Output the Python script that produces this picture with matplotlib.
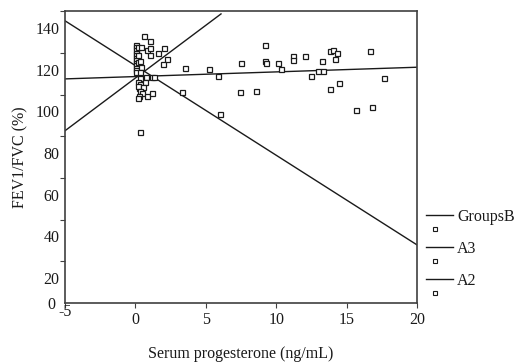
import numpy as np
import matplotlib.pyplot as plt
from matplotlib.transforms import ScaledTranslation

plt.rcParams['font.family'] = ['Liberation Serif', 'DejaVu Serif']

# scatter values (serum progesterone ng/mL, FEV1/FVC %)
prog = [0.63, 1.04, 0.04, 0.04, 0.04, 0.04, 0.04, 0.04, 0.04, 0.04, 0.04, 0.04, 0.04, 0.04,
        0.16, 0.16, 0.16, 0.40, 0.80, 1.04, 1.04, 1.63, 2.05, 2.24, 1.98,
        0.33, 0.40, 0.33, 0.33, 0.73, 1.16, 1.30, 0.16, 0.33, 0.68, 0.26, 0.16, 0.52,
        0.33, 0.45, 0.26, 0.80, 1.21, 0.20, 0.33,
        3.33, 3.54, 5.25, 5.87, 6.01, 7.50, 7.43, 8.54, 9.20, 9.20, 9.31, 10.11, 10.34,
        11.21, 11.21, 12.05, 12.47, 12.95, 13.30, 13.23, 13.82, 14.06, 14.35, 14.21,
        14.48, 13.82, 16.66, 17.69, 15.67, 16.80]
fev = [136.4, 133.8, 131.9, 130.8, 129.5, 128.2, 127.0, 125.8, 124.6, 123.4, 122.2, 121.0, 119.8, 118.9,
       131.0, 127.0, 123.5, 131.1, 129.5, 130.3, 127.1, 127.9, 130.3, 125.0, 122.7,
       124.0, 121.5, 118.9, 115.9, 116.5, 116.5, 116.6, 114.3, 113.0, 113.9, 111.2, 112.0, 111.9,
       109.6, 108.7, 107.5, 107.4, 109.0, 106.6, 90.3,
       109.2, 120.7, 120.2, 116.9, 98.8, 123.1, 109.2, 109.7, 131.7, 124.4, 123.1, 123.1, 120.2,
       126.6, 124.5, 126.6, 116.9, 119.3, 119.3, 124.0, 128.8, 129.5, 127.9, 125.0,
       113.5, 110.6, 129.1, 115.9, 100.7, 102.1]

# fit lines per group: (x start, x end, y start, y end)
groups = ["GroupsB", "A3", "A2"]
fit_x = [[-5, 20], [-5, 6.08], [-5, 20]]
fit_y = [[115.6, 121.2], [90.7, 146.8], [143.5, 35.9]]

ytick_vals = [8, 20, 40, 60, 80, 100, 120, 140]
ytick_labels = ["0", "20", "40", "60", "80", "100", "120", "140"]
xtick_vals = [-5, 0, 5, 10, 15, 20]

fig = plt.figure(figsize=(5.15, 3.62), dpi=100)
ax = fig.add_axes([65/515, 59/362, 352/515, 292/362])

ink = '#1a1a1a'
fs = 11.5
for xs, ys in zip(fit_x, fit_y):
    ax.plot(xs, ys, color=ink, lw=1.0)
ax.plot(prog, fev, ls='none', marker='s', ms=3.6, mfc='white', mec=ink, mew=0.9)

ax.set_xlim(-5, 20)
ax.set_ylim(8.0, 148.2)
ax.set_xticks(xtick_vals)
ax.set_xticklabels([str(v) for v in xtick_vals])
ax.set_yticks(ytick_vals)
ax.set_yticklabels(ytick_labels)
ax.set_yticks(np.arange(8, 149, 20), minor=True)

for s in ax.spines.values():
    s.set_color('#404040')
    s.set_linewidth(1.2)
ax.tick_params(axis='x', direction='out', length=3.5, width=0.8, color='#404040',
               labelsize=fs, pad=3, labelcolor=ink)
ax.tick_params(axis='y', which='major', length=0, labelsize=fs, pad=4, labelcolor=ink)
ax.tick_params(axis='y', which='minor', direction='out', length=3.5, width=0.8, color='#404040')

# odd label placement of the original
xl = ax.get_xticklabels()[0]
xl.set_transform(xl.get_transform() + ScaledTranslation(0, 0.08, fig.dpi_scale_trans))
yl = ax.get_yticklabels()[0]
yl.set_transform(yl.get_transform() + ScaledTranslation(-0.04, 0, fig.dpi_scale_trans))

ax.set_xlabel("Serum progesterone (ng/mL)", fontsize=fs, labelpad=13, color=ink)
ax.set_ylabel("FEV1/FVC (%)", fontsize=fs, labelpad=5, color=ink)

# legend drawn beside the axes
for i, g in enumerate(groups):
    ly = 0.301 - i * 0.1095
    ax.plot([1.026, 1.102], [ly, ly], transform=ax.transAxes, clip_on=False, color=ink, lw=1.0)
    ax.text(1.114, ly, g, transform=ax.transAxes, fontsize=fs, va='center_baseline',
            ha='left', color=ink)
    ax.plot([1.051], [ly - 0.048], transform=ax.transAxes, clip_on=False, ls='none',
            marker='s', ms=2.4, mfc='white', mec=ink, mew=0.8)

fig.savefig("out.png", dpi=100)
